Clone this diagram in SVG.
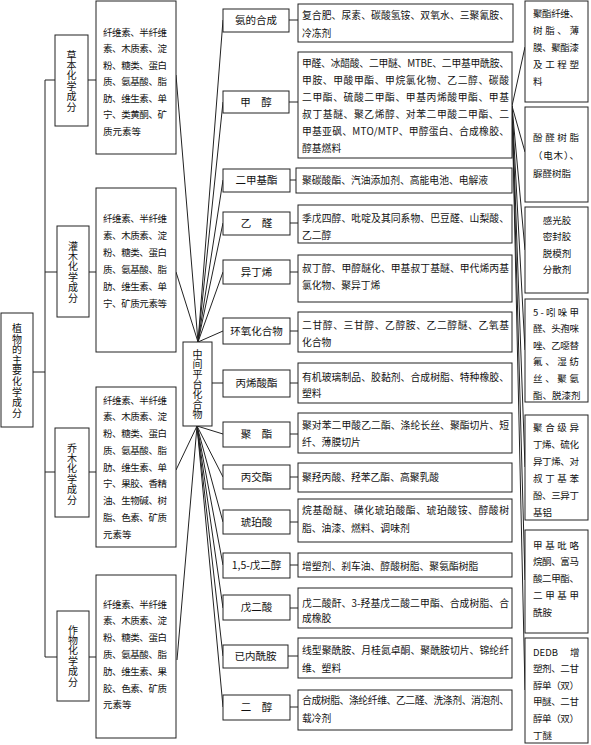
<svg xmlns="http://www.w3.org/2000/svg" width="591" height="745" viewBox="0 0 591 745">
<style>
text{font-family:"Noto Sans CJK SC","Noto Sans",sans-serif;fill:#111;}
.b{fill:#fff;stroke:#222;stroke-width:1;}
.c line{stroke:#222;stroke-width:1;}
.v{font-size:10px;text-anchor:middle;writing-mode:vertical-rl;}
.l{font-size:9.5px;}
.m{font-size:9.8px;}
.k{font-size:10.5px;text-anchor:middle;}
.r{font-size:9.5px;}
.rc{font-size:9.5px;text-anchor:middle;}
</style>
<rect width="591" height="745" fill="#fff"/>
<g class="c" id="connectors">
<line x1="33" y1="372" x2="45" y2="372"/>
<line x1="45" y1="80" x2="45" y2="657"/>
<line x1="45" y1="80" x2="55" y2="80"/>
<line x1="45" y1="272" x2="57" y2="272"/>
<line x1="45" y1="472" x2="55" y2="472"/>
<line x1="45" y1="657" x2="57" y2="657"/>
<line x1="88" y1="80" x2="96" y2="80"/>
<line x1="89" y1="272" x2="96" y2="272"/>
<line x1="89" y1="472" x2="96" y2="472"/>
<line x1="89" y1="657" x2="96" y2="657"/>
<line x1="176" y1="75" x2="198" y2="342"/>
<line x1="176" y1="272" x2="198" y2="342"/>
<line x1="176" y1="470" x2="197" y2="426"/>
<line x1="177" y1="660" x2="197" y2="426"/>
<line x1="198" y1="342" x2="223" y2="20"/>
<line x1="198" y1="342" x2="223" y2="102"/>
<line x1="198" y1="342" x2="223" y2="180"/>
<line x1="198" y1="342" x2="223" y2="223"/>
<line x1="198" y1="342" x2="223" y2="272"/>
<line x1="198" y1="342" x2="223" y2="331"/>
<line x1="212" y1="383" x2="223" y2="383"/>
<line x1="197" y1="426" x2="223" y2="434"/>
<line x1="197" y1="426" x2="223" y2="477"/>
<line x1="197" y1="426" x2="223" y2="522"/>
<line x1="197" y1="426" x2="223" y2="565"/>
<line x1="197" y1="426" x2="223" y2="608"/>
<line x1="197" y1="426" x2="223" y2="656"/>
<line x1="197" y1="426" x2="223" y2="707"/>
<line x1="289" y1="20" x2="298" y2="20"/>
<line x1="289" y1="102" x2="298" y2="102"/>
<line x1="290" y1="180" x2="296" y2="180"/>
<line x1="290" y1="223" x2="298" y2="223"/>
<line x1="290" y1="272" x2="298" y2="272"/>
<line x1="290" y1="331" x2="298" y2="331"/>
<line x1="290" y1="383" x2="298" y2="383"/>
<line x1="290" y1="434" x2="298" y2="434"/>
<line x1="290" y1="477" x2="298" y2="477"/>
<line x1="290" y1="522" x2="298" y2="522"/>
<line x1="290" y1="565" x2="298" y2="565"/>
<line x1="290" y1="608" x2="298" y2="608"/>
<line x1="288" y1="656" x2="298" y2="656"/>
<line x1="290" y1="707" x2="298" y2="707"/>
<line x1="512" y1="106" x2="525" y2="47"/>
<line x1="512" y1="106" x2="525" y2="152"/>
<line x1="512" y1="106" x2="525" y2="250"/>
<line x1="512" y1="106" x2="525" y2="350"/>
<line x1="512" y1="106" x2="525" y2="467"/>
<line x1="512" y1="106" x2="525" y2="580"/>
<line x1="512" y1="106" x2="525" y2="690"/>
</g>
<g id="root">
<rect class="b" x="1" y="313" width="32" height="114"/>
<text class="v" x="17" y="371" letter-spacing="0.6">植物的主要化学成分</text>
</g>
<g id="cat1">
<rect class="b" x="55" y="35" width="33" height="91"/>
<text class="v" x="71.5" y="81" letter-spacing="0.4">草本化学成分</text>
</g>
<g id="cat2">
<rect class="b" x="57" y="226" width="32" height="91"/>
<text class="v" x="73" y="272" letter-spacing="0.4">灌木化学成分</text>
</g>
<g id="cat3">
<rect class="b" x="55" y="428" width="34" height="89"/>
<text class="v" x="72" y="474" letter-spacing="0.4">乔木化学成分</text>
</g>
<g id="cat4">
<rect class="b" x="57" y="611" width="32" height="90"/>
<text class="v" x="73" y="656" letter-spacing="0.4">作物化学成分</text>
</g>
<g id="comp1">
<rect class="b" x="96" y="1" width="80" height="153"/>
<text class="l"><tspan x="103" y="35.5" textLength="64" lengthAdjust="spacing">纤维素、半纤维</tspan><tspan x="103" y="52" textLength="64" lengthAdjust="spacing">素、木质素、淀</tspan><tspan x="103" y="68.5" textLength="64" lengthAdjust="spacing">粉、糖类、蛋白</tspan><tspan x="103" y="85" textLength="64" lengthAdjust="spacing">质、氨基酸、脂</tspan><tspan x="103" y="101.5" textLength="64" lengthAdjust="spacing">肪、维生素、单</tspan><tspan x="103" y="118" textLength="64" lengthAdjust="spacing">宁、类黄酮、矿</tspan><tspan x="103" y="134.5">质元素等</tspan></text>
</g>
<g id="comp2">
<rect class="b" x="96" y="188" width="80" height="164"/>
<text class="l"><tspan x="103" y="221.5" textLength="64" lengthAdjust="spacing">纤维素、半纤维</tspan><tspan x="103" y="238.5" textLength="64" lengthAdjust="spacing">素、木质素、淀</tspan><tspan x="103" y="255.5" textLength="64" lengthAdjust="spacing">粉、糖类、蛋白</tspan><tspan x="103" y="272.5" textLength="64" lengthAdjust="spacing">质、氨基酸、脂</tspan><tspan x="103" y="289.5" textLength="64" lengthAdjust="spacing">肪、维生素、单</tspan><tspan x="103" y="306.5" textLength="64" lengthAdjust="spacing">宁、矿质元素等</tspan></text>
</g>
<g id="comp3">
<rect class="b" x="96" y="387" width="80" height="160"/>
<text class="l"><tspan x="103" y="403.5" textLength="64" lengthAdjust="spacing">纤维素、半纤维</tspan><tspan x="103" y="420.2" textLength="64" lengthAdjust="spacing">素、木质素、淀</tspan><tspan x="103" y="437" textLength="64" lengthAdjust="spacing">粉、糖类、蛋白</tspan><tspan x="103" y="453.7" textLength="64" lengthAdjust="spacing">质、氨基酸、脂</tspan><tspan x="103" y="470.5" textLength="64" lengthAdjust="spacing">肪、维生素、单</tspan><tspan x="103" y="487.2" textLength="64" lengthAdjust="spacing">宁、果胶、香精</tspan><tspan x="103" y="504" textLength="64" lengthAdjust="spacing">油、生物碱、树</tspan><tspan x="103" y="520.7" textLength="64" lengthAdjust="spacing">脂、色素、矿质</tspan><tspan x="103" y="537.5">元素等</tspan></text>
</g>
<g id="comp4">
<rect class="b" x="96" y="575" width="80" height="163"/>
<text class="l"><tspan x="103" y="607.5" textLength="64" lengthAdjust="spacing">纤维素、半纤维</tspan><tspan x="103" y="624.3" textLength="64" lengthAdjust="spacing">素、木质素、淀</tspan><tspan x="103" y="641.1" textLength="64" lengthAdjust="spacing">粉、糖类、蛋白</tspan><tspan x="103" y="657.9" textLength="64" lengthAdjust="spacing">质、氨基酸、脂</tspan><tspan x="103" y="674.7" textLength="64" lengthAdjust="spacing">肪、维生素、果</tspan><tspan x="103" y="691.5" textLength="64" lengthAdjust="spacing">胶、色素、矿质</tspan><tspan x="103" y="708.3">元素等</tspan></text>
</g>
<g id="hub">
<rect class="b" x="183" y="342" width="29" height="84"/>
<text class="v" x="197.5" y="384" letter-spacing="0">中间平台化合物</text>
</g>
<g id="n1">
<rect class="b" x="223" y="9" width="66" height="23"/>
<text class="k" x="256" y="24">氨的合成</text>
<rect class="b" x="298" y="4" width="215" height="38"/>
<text class="m"><tspan x="302" y="19" textLength="207" lengthAdjust="spacing">复合肥、尿素、碳酸氢铵、双氧水、三聚氰胺、</tspan><tspan x="302" y="37">冷冻剂</tspan></text>
</g>
<g id="n2">
<rect class="b" x="223" y="91" width="66" height="22"/>
<text class="k" x="256" y="106">甲　醇</text>
<rect class="b" x="298" y="52" width="214" height="106"/>
<text class="m"><tspan x="302" y="66.5" textLength="207" lengthAdjust="spacing">甲醛、冰醋酸、二甲醚、MTBE、二甲基甲酰胺、</tspan><tspan x="302" y="83.5" textLength="207" lengthAdjust="spacing">甲胺、甲酸甲酯、甲烷氯化物、乙二醇、碳酸</tspan><tspan x="302" y="100.5" textLength="207" lengthAdjust="spacing">二甲酯、硫酸二甲酯、甲基丙烯酸甲酯、甲基</tspan><tspan x="302" y="117.5" textLength="207" lengthAdjust="spacing">叔丁基醚、聚乙烯醇、对苯二甲酸二甲酯、二</tspan><tspan x="302" y="134.5" textLength="207" lengthAdjust="spacing">甲基亚砜、MTO/MTP、甲醇蛋白、合成橡胶、</tspan><tspan x="302" y="151.5">醇基燃料</tspan></text>
</g>
<g id="n3">
<rect class="b" x="223" y="169" width="67" height="23"/>
<text class="k" x="256.5" y="184">二甲基酯</text>
<rect class="b" x="296" y="168" width="216" height="25"/>
<text class="m" x="302" y="183.5">聚碳酸酯、汽油添加剂、高能电池、电解液</text>
</g>
<g id="n4">
<rect class="b" x="223" y="212" width="67" height="23"/>
<text class="k" x="256.5" y="227">乙　醛</text>
<rect class="b" x="298" y="205" width="214" height="38"/>
<text class="m"><tspan x="302" y="221.5" textLength="207" lengthAdjust="spacing">季戊四醇、吡啶及其同系物、巴豆醛、山梨酸、</tspan><tspan x="302" y="239">乙二醇</tspan></text>
</g>
<g id="n5">
<rect class="b" x="223" y="260" width="67" height="24"/>
<text class="k" x="256.5" y="275.5">异丁烯</text>
<rect class="b" x="298" y="255" width="214" height="47"/>
<text class="m"><tspan x="302" y="271.5" textLength="207" lengthAdjust="spacing">叔丁醇、甲醇醚化、甲基叔丁基醚、甲代烯丙基</tspan><tspan x="302" y="288.5">氯化物、聚异丁烯</tspan></text>
</g>
<g id="n6">
<rect class="b" x="223" y="318" width="67" height="26"/>
<text class="k" x="256.5" y="334.5">环氧化合物</text>
<rect class="b" x="298" y="312" width="214" height="40"/>
<text class="m"><tspan x="302" y="328.5" textLength="207" lengthAdjust="spacing">二甘醇、三甘醇、乙醇胺、乙二醇醚、乙氧基</tspan><tspan x="302" y="345.5">化合物</tspan></text>
</g>
<g id="n7">
<rect class="b" x="223" y="370" width="67" height="27"/>
<text class="k" x="256.5" y="387">丙烯酸酯</text>
<rect class="b" x="298" y="363" width="214" height="40"/>
<text class="m"><tspan x="302" y="380.5" textLength="207" lengthAdjust="spacing">有机玻璃制品、胶黏剂、合成树脂、特种橡胶、</tspan><tspan x="302" y="396.5">塑料</tspan></text>
</g>
<g id="n8">
<rect class="b" x="223" y="422" width="67" height="25"/>
<text class="k" x="256.5" y="438">聚　酯</text>
<rect class="b" x="298" y="413" width="214" height="40"/>
<text class="m"><tspan x="302" y="428.5" textLength="207" lengthAdjust="spacing">聚对苯二甲酸乙二酯、涤纶长丝、聚酯切片、短</tspan><tspan x="302" y="445.5">纤、薄膜切片</tspan></text>
</g>
<g id="n9">
<rect class="b" x="223" y="465" width="67" height="24"/>
<text class="k" x="256.5" y="480.5">丙交酯</text>
<rect class="b" x="298" y="463" width="214" height="29"/>
<text class="m" x="302" y="480.5">聚羟丙酸、羟苯乙酯、高聚乳酸</text>
</g>
<g id="n10">
<rect class="b" x="223" y="510" width="67" height="24"/>
<text class="k" x="256.5" y="525.5">琥珀酸</text>
<rect class="b" x="298" y="499" width="214" height="43"/>
<text class="m"><tspan x="302" y="513.5" textLength="207" lengthAdjust="spacing">烷基酚醚、磺化琥珀酸酯、琥珀酸铵、醇酸树</tspan><tspan x="302" y="531.5">脂、油漆、燃料、调味剂</tspan></text>
</g>
<g id="n11">
<rect class="b" x="223" y="553" width="67" height="25"/>
<text class="k" x="256.5" y="569">1,5-戊二醇</text>
<rect class="b" x="298" y="553" width="214" height="24"/>
<text class="m" x="302" y="569.5">增塑剂、刹车油、醇酸树脂、聚氨酯树脂</text>
</g>
<g id="n12">
<rect class="b" x="223" y="595" width="67" height="25"/>
<text class="k" x="256.5" y="611">戊二酸</text>
<rect class="b" x="298" y="588" width="214" height="40"/>
<text class="m"><tspan x="302" y="606.5" textLength="207" lengthAdjust="spacing">戊二酸酐、3-羟基戊二酸二甲酯、合成树脂、合</tspan><tspan x="302" y="621.5">成橡胶</tspan></text>
</g>
<g id="n13">
<rect class="b" x="223" y="645" width="65" height="23"/>
<text class="k" x="255.5" y="660">已内酰胺</text>
<rect class="b" x="298" y="638" width="214" height="40"/>
<text class="m"><tspan x="302" y="653.5" textLength="207" lengthAdjust="spacing">线型聚酰胺、月桂氮卓酮、聚酰胺切片、锦纶纤</tspan><tspan x="302" y="671.5">维、塑料</tspan></text>
</g>
<g id="n14">
<rect class="b" x="223" y="695" width="67" height="25"/>
<text class="k" x="256.5" y="711">二　醇</text>
<rect class="b" x="298" y="690" width="214" height="40"/>
<text class="m"><tspan x="302" y="703.5" textLength="207" lengthAdjust="spacing">合成树脂、涤纶纤维、乙二醛、洗涤剂、消泡剂、</tspan><tspan x="302" y="721.5">载冷剂</tspan></text>
</g>
<g id="r1">
<rect class="b" x="525" y="1" width="63" height="101"/>
<text class="r"><tspan x="533" y="17" textLength="46" lengthAdjust="spacing">聚酯纤维、</tspan><tspan x="533" y="34" textLength="46" lengthAdjust="spacing">树脂、薄</tspan><tspan x="533" y="51" textLength="46" lengthAdjust="spacing">膜、聚酯漆</tspan><tspan x="533" y="68" textLength="46" lengthAdjust="spacing">及工程塑</tspan><tspan x="533" y="85">料</tspan></text>
</g>
<g id="r2">
<rect class="b" x="525" y="107" width="63" height="95"/>
<text class="r"><tspan x="533" y="140.5" textLength="46" lengthAdjust="spacing">酚醛树脂</tspan><tspan x="533" y="158.5" textLength="46" lengthAdjust="spacing">（电木）、</tspan><tspan x="533" y="176.5">脲醛树脂</tspan></text>
</g>
<g id="r3">
<rect class="b" x="525" y="207" width="63" height="86"/>
<text class="rc"><tspan x="557" y="223.5">感光胶</tspan><tspan x="557" y="240">密封胶</tspan><tspan x="557" y="256.5">脱模剂</tspan><tspan x="557" y="273">分散剂</tspan></text>
</g>
<g id="r4">
<rect class="b" x="525" y="299" width="63" height="103"/>
<text class="r"><tspan x="533" y="315.5" textLength="46" lengthAdjust="spacing">5-吲哚甲</tspan><tspan x="533" y="332.1" textLength="46" lengthAdjust="spacing">醛、头孢咪</tspan><tspan x="533" y="348.7" textLength="46" lengthAdjust="spacing">唑、乙噁替</tspan><tspan x="533" y="365.3" textLength="46" lengthAdjust="spacing">氟、湿纺</tspan><tspan x="533" y="381.9" textLength="46" lengthAdjust="spacing">丝、聚氨</tspan><tspan x="533" y="398.5">酯、脱漆剂</tspan></text>
</g>
<g id="r5">
<rect class="b" x="525" y="415" width="63" height="105"/>
<text class="r"><tspan x="533" y="430.5" textLength="46" lengthAdjust="spacing">聚合级异</tspan><tspan x="533" y="447.5" textLength="46" lengthAdjust="spacing">丁烯、硫化</tspan><tspan x="533" y="464.5" textLength="46" lengthAdjust="spacing">异丁烯、对</tspan><tspan x="533" y="481.5" textLength="46" lengthAdjust="spacing">叔丁基苯</tspan><tspan x="533" y="498.5" textLength="46" lengthAdjust="spacing">酚、三异丁</tspan><tspan x="533" y="515.5">基铝</tspan></text>
</g>
<g id="r6">
<rect class="b" x="525" y="530" width="63" height="103"/>
<text class="r"><tspan x="533" y="548.5" textLength="46" lengthAdjust="spacing">甲基吡咯</tspan><tspan x="533" y="565.2" textLength="46" lengthAdjust="spacing">烷酮、富马</tspan><tspan x="533" y="582" textLength="46" lengthAdjust="spacing">酸二甲酯、</tspan><tspan x="533" y="598.7" textLength="46" lengthAdjust="spacing">二甲基甲</tspan><tspan x="533" y="615.5">酰胺</tspan></text>
</g>
<g id="r7">
<rect class="b" x="525" y="638" width="63" height="105"/>
<text class="r"><tspan x="533" y="655.5">DEDB</tspan><tspan x="570" y="655.5">增</tspan><tspan x="533" y="672.1" textLength="46" lengthAdjust="spacing">塑剂、二甘</tspan><tspan x="533" y="688.7" textLength="46" lengthAdjust="spacing">醇单（双）</tspan><tspan x="533" y="705.3" textLength="46" lengthAdjust="spacing">甲醚、二甘</tspan><tspan x="533" y="721.9" textLength="46" lengthAdjust="spacing">醇单（双）</tspan><tspan x="533" y="738.5">丁醚</tspan></text>
</g>
</svg>
